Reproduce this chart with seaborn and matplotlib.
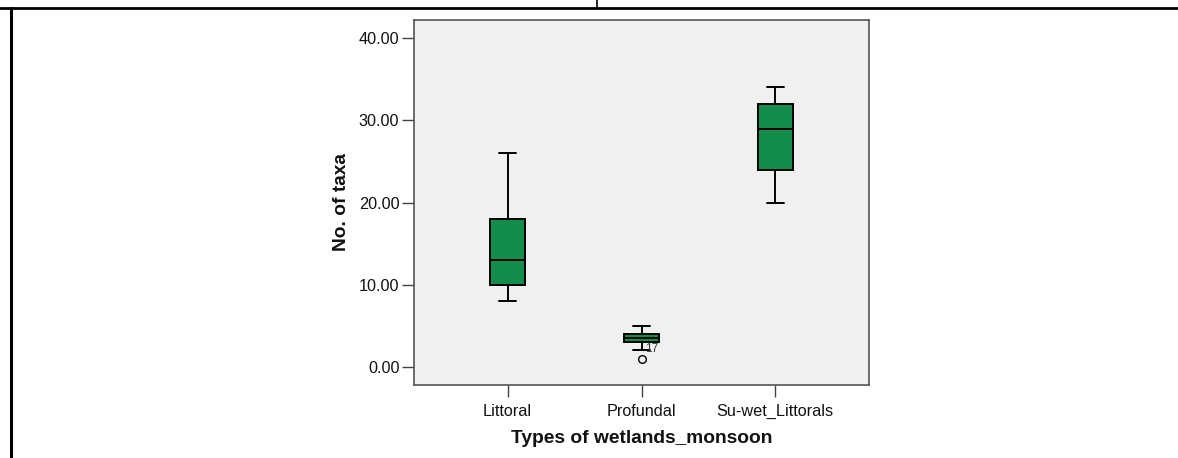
import matplotlib
matplotlib.use("Agg")
import matplotlib.pyplot as plt
from matplotlib.lines import Line2D
import seaborn as sns
import pandas as pd

# Data (values chosen so each box's five-number summary matches the chart)
categories = ["Littoral", "Profundal", "Su-wet_Littorals"]
littoral = [8, 10, 13, 18, 26]
profundal = [1, 2, 3, 3, 3, 4, 4, 4, 5, 5]
su_wet = [20, 24, 29, 32, 34]
outlier_label = "17"
yticks = [0, 10, 20, 30, 40]

df = pd.DataFrame({
    "type": [categories[0]] * len(littoral) + [categories[1]] * len(profundal) + [categories[2]] * len(su_wet),
    "taxa": littoral + profundal + su_wet,
})

sns.set_theme(style="ticks")
plt.rcParams["font.family"] = ["Liberation Sans", "DejaVu Sans"]

fig = plt.figure(figsize=(11.78, 4.58), dpi=100)
ax = fig.add_axes([414 / 1178, 1 - 385 / 458, (869 - 414) / 1178, (385 - 20) / 458])
ax.set_facecolor("#F0F0F0")

green = "#138C4C"
sns.boxplot(
    data=df, x="type", y="taxa", order=categories, ax=ax,
    width=0.26, color=green, saturation=1, linewidth=1.4, linecolor="black",
    flierprops=dict(marker="o", markerfacecolor="none", markeredgecolor="black",
                    markersize=5.5, markeredgewidth=1.0),
    boxprops=dict(edgecolor="black"),
)

# outlier case label
ax.annotate(outlier_label, xy=(1, min(profundal)), xytext=(2.2, 7),
            textcoords="offset points", ha="left", va="center",
            fontsize=8.5, color="#333333")

ax.set_xlim(-0.70, 2.70)
ax.set_ylim(-2.2, 42.2)
ax.set_yticks(yticks)
ax.set_yticklabels([f"{v:.2f}" for v in yticks])
ax.tick_params(axis="both", direction="out", length=8.5, width=1.0, color="#444444",
               labelsize=11.7, labelcolor="#111111")
ax.tick_params(axis="y", pad=2)
ax.tick_params(axis="x", pad=5)
ax.set_xlabel("Types of wetlands_monsoon", fontsize=13.8, fontweight="bold", labelpad=8,
              color="#111111")
ax.set_ylabel("No. of taxa", fontsize=13.8, fontweight="bold", labelpad=6, color="#111111")
for s in ax.spines.values():
    s.set_visible(True)
    s.set_color("#555555")
    s.set_linewidth(1.2)

# surrounding table-cell lines
fig.add_artist(Line2D([0, 1], [1 - 7.5 / 458, 1 - 7.5 / 458], color="black", lw=2.0,
                      transform=fig.transFigure))
fig.add_artist(Line2D([10.5 / 1178, 10.5 / 1178], [0, 1 - 7.5 / 458], color="black", lw=2.2,
                      transform=fig.transFigure))
fig.add_artist(Line2D([596.5 / 1178, 596.5 / 1178], [1 - 7.5 / 458, 1], color="black", lw=1.2,
                      transform=fig.transFigure))

fig.savefig("out.png", dpi=100, facecolor="white")
